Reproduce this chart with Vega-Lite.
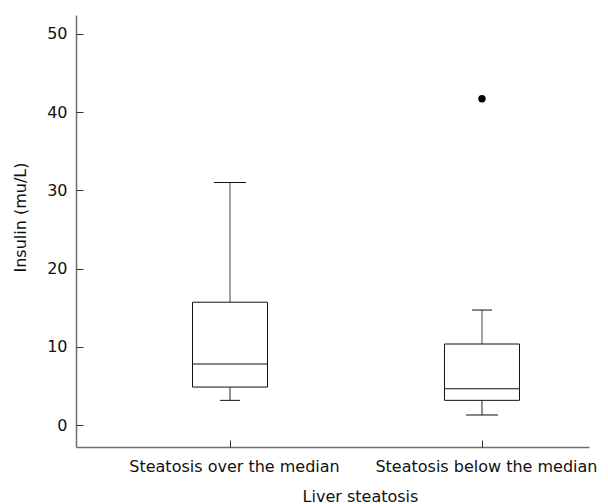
{
  "$schema": "https://vega.github.io/schema/vega-lite/v6.json",
  "width": 513,
  "height": 432,
  "autosize": {"type": "none"},
  "padding": {"left": 76, "top": 15, "right": 19, "bottom": 57},
  "background": "white",
  "config": {
    "view": {"stroke": null},
    "font": "DejaVu Sans",
    "axis": {
      "labelFont": "DejaVu Sans",
      "titleFont": "DejaVu Sans",
      "labelFontSize": 16,
      "titleFontSize": 16,
      "labelLimit": 0,
      "labelColor": "#111",
      "titleColor": "#111",
      "titleFontWeight": "normal",
      "domainColor": "#707070",
      "domainWidth": 1.5,
      "tickColor": "#333",
      "tickSize": 7,
      "tickWidth": 1,
      "grid": false
    }
  },
  "datasets": {
    "boxes": [
      {"group": "Steatosis over the median", "lower": 3.16, "q1": 4.86, "median": 7.8, "q3": 15.7, "upper": 31.0},
      {"group": "Steatosis below the median", "lower": 1.28, "q1": 3.16, "median": 4.64, "q3": 10.36, "upper": 14.7}
    ],
    "outliers": [
      {"group": "Steatosis below the median", "value": 41.7}
    ]
  },
  "resolve": {"axis": {"x": "independent", "y": "independent"}},
  "layer": [
    {
      "data": {"name": "boxes"},
      "encoding": {
        "x": {
          "field": "group",
          "type": "nominal",
          "scale": {"type": "point", "padding": 0.518, "align": 0.59, "domain": ["Steatosis over the median", "Steatosis below the median"]},
          "axis": {
            "title": "Liver steatosis",
            "ticks": false,
            "labelAngle": 0,
            "labelPadding": 24.5,
            "labelOffset": 4,
            "labelBaseline": "alphabetic",
            "titleX": 284,
            "titleY": 54,
            "titleBaseline": "alphabetic",
            "titleAnchor": null
          }
        }
      },
      "layer": [
        {
          "mark": {"type": "rule", "color": "#222", "strokeWidth": 1},
          "encoding": {
            "y": {
              "field": "lower",
              "type": "quantitative",
              "scale": {"domain": [-2.8, 52.4], "nice": false, "zero": false},
              "axis": {
                "title": "Insulin (mu/L)",
                "values": [0, 10, 20, 30, 40, 50],
                "ticks": false,
                "labelPadding": 9,
                "titleY": 202,
                "titlePadding": 18
              }
            },
            "y2": {"field": "q1"}
          }
        },
        {
          "mark": {"type": "rule", "color": "#444", "strokeWidth": 1},
          "encoding": {
            "y": {"field": "q3", "type": "quantitative"},
            "y2": {"field": "upper"}
          }
        },
        {
          "mark": {"type": "bar", "size": 75, "fill": "white", "stroke": "#111", "strokeWidth": 1},
          "encoding": {
            "y": {"field": "q1", "type": "quantitative"},
            "y2": {"field": "q3"}
          }
        },
        {
          "mark": {"type": "tick", "size": 75, "thickness": 1, "color": "#111", "opacity": 1},
          "encoding": {
            "y": {"field": "median", "type": "quantitative"}
          }
        },
        {
          "transform": [
            {"fold": ["lower", "upper"], "as": ["end", "val"]},
            {"filter": "(datum.group === 'Steatosis over the median' && datum.end === 'upper') || (datum.group === 'Steatosis below the median' && datum.end === 'lower')"}
          ],
          "mark": {"type": "tick", "size": 32, "thickness": 1, "color": "#111", "opacity": 1},
          "encoding": {
            "y": {"field": "val", "type": "quantitative"}
          }
        },
        {
          "transform": [
            {"fold": ["lower", "upper"], "as": ["end", "val"]},
            {"filter": "(datum.group === 'Steatosis over the median' && datum.end === 'lower') || (datum.group === 'Steatosis below the median' && datum.end === 'upper')"}
          ],
          "mark": {"type": "tick", "size": 20, "thickness": 1, "color": "#111", "opacity": 1},
          "encoding": {
            "y": {"field": "val", "type": "quantitative"}
          }
        }
      ]
    },
    {
      "data": {"name": "outliers"},
      "mark": {"type": "point", "filled": true, "color": "black", "size": 55, "opacity": 1},
      "encoding": {
        "x": {
          "field": "group",
          "type": "nominal",
          "axis": {"orient": "top", "offset": -432, "labels": false, "domain": false, "title": null, "ticks": true}
        },
        "y": {
          "field": "value",
          "type": "quantitative",
          "axis": {"orient": "right", "offset": -513, "labels": false, "domain": false, "title": null, "ticks": true, "values": [0, 10, 20, 30, 40, 50]}
        }
      }
    }
  ]
}
